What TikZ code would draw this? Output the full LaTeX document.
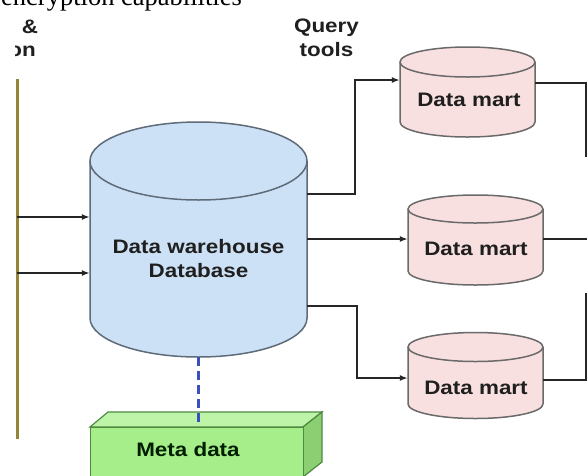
\documentclass[tikz,border=0pt]{standalone}
\usepackage{fontspec}
\newfontfamily\lblfont[FakeStretch=1.15]{Liberation Sans Bold}
\newfontfamily\serfont{Liberation Serif}
\usetikzlibrary{arrows.meta}

\definecolor{dwfill}{HTML}{CDE1F6}
\definecolor{dwline}{HTML}{5E6B78}
\definecolor{dmfill}{HTML}{F9E0E0}
\definecolor{dmline}{HTML}{6A6A6A}
\definecolor{olivel}{HTML}{948437}
\definecolor{dashblue}{HTML}{3A4FC0}
\definecolor{mfront}{HTML}{A6EE8A}
\definecolor{mtop}{HTML}{BDF4A8}
\definecolor{mside}{HTML}{8CCF72}
\definecolor{mline}{HTML}{4E8A40}

\tikzset{
 lbl/.style={font=\lblfont\fontsize{19.5}{24}\selectfont, text=black!88, inner sep=0pt, align=center},
 conn/.style={draw=black!85, line width=2.2pt},
 arr/.style={conn, -{Latex[length=8pt,width=6pt]}},
 body/.style={draw=none, inner sep=0pt, rectangle},
}

% cx, top cy, bottom cy, rx, ry, fill, line
\newcommand\drawcyl[7]{%
 \fill[#6] (#1-#4,-#2) -- (#1-#4,-#3) arc[start angle=180,end angle=360,x radius=#4,y radius=#5] -- (#1+#4,-#2) arc[start angle=0,end angle=180,x radius=#4,y radius=#5] -- cycle;
 \draw[#7, line width=1.5pt] (#1-#4,-#2) -- (#1-#4,-#3) arc[start angle=180,end angle=360,x radius=#4,y radius=#5] -- (#1+#4,-#2);
 \draw[#7, line width=1.5pt] (#1,-#2) ellipse[x radius=#4, y radius=#5];
}

\begin{document}
\begin{tikzpicture}[x=1pt,y=1pt]
\useasboundingbox (0,0) rectangle (587,-475);
\fill[white] (0,0) rectangle (587,-475);

% top text (cut off at the top, as in the reference)
\node[font=\serfont\fontsize{26.5}{30}\selectfont, anchor=base west, inner sep=0pt] (toptext) at (1,-5) {encryption capabilities};
\node[lbl] (amp) at (30,-27) {\&};
\begin{scope}
\clip (15,-38) rectangle (60,-62);
\node[lbl, anchor=base east] (ion) at (36,-56) {ion};
\end{scope}
\node[lbl] (query) at (326.5,-38) {Query\\tools};

% cylinders
\drawcyl{198.5}{161}{318}{108.5}{39}{dwfill}{dwline}
\drawcyl{467.5}{62}{122}{67.5}{15}{dmfill}{dmline}
\drawcyl{475.5}{209}{271}{67.5}{14}{dmfill}{dmline}
\drawcyl{475.5}{347}{404}{67.5}{14.5}{dmfill}{dmline}

\node[body, minimum width=217pt, minimum height=235pt] (dw) at (198.5,-239.5) {};
\node[body, minimum width=135pt, minimum height=90pt] (dm1) at (467.5,-92) {};
\node[body, minimum width=135pt, minimum height=90pt] (dm2) at (475.5,-240) {};
\node[body, minimum width=135pt, minimum height=85pt] (dm3) at (475.5,-375.5) {};

\node[lbl] (dwt) at (198.5,-259) {Data warehouse\\Database};
\node[lbl] (dm1t) at (469,-100) {Data mart};
\node[lbl] (dm2t) at (476,-248.5) {Data mart};
\node[lbl] (dm3t) at (476,-387.5) {Data mart};

% meta data box
\filldraw[fill=mtop, draw=mline, line width=1.2pt] (90,-427) -- (108,-412) -- (322,-412) -- (303,-427) -- cycle;
\filldraw[fill=mside, draw=mline, line width=1.2pt] (303,-427) -- (322,-412) -- (322,-462) -- (303,-477) -- cycle;
\node[draw=mline, fill=mfront, line width=1.2pt, minimum width=213pt, minimum height=60pt, anchor=north west, inner sep=0pt] (meta) at (90,-427) {};
\node[lbl, text=black!80!green!60!black] (metat) at (188,-449.5) {Meta data};

\draw[dashblue, line width=2.2pt, dash pattern=on 9pt off 5pt] (dw.south) -- (dw.south |- meta.north);

% left bus
\coordinate (ltop) at (17,-79);
\coordinate (lbot) at (17,-439);
\draw[olivel, line width=3pt] (ltop) -- (lbot);
\draw[arr] (ltop |- 0,-217) -- (dw.west |- 0,-217);
\draw[arr] (ltop |- 0,-273) -- (dw.west |- 0,-273);

% to data marts
\draw[arr] (dw.east |- 0,-194) -- (355,-194) -- (355,-80) -- (dm1.west |- 0,-80);
\draw[arr] (dw.east |- 0,-239) -- (dm2.west |- 0,-239);
\draw[arr] (dw.east |- 0,-306) -- (357,-306) -- (357,-378) -- (dm3.west |- 0,-378);

% outgoing on right
\coordinate (r1) at (586,-157);
\coordinate (r2) at (590,-239);
\coordinate (r3) at (586,-293);
\draw[conn] (dm1.east |- 0,-83) -- (586,-83) -- (r1);
\draw[conn] (dm2.east |- 0,-239) -- (r2);
\draw[conn] (dm3.east |- 0,-380) -- (586,-380) -- (r3);
\end{tikzpicture}
\end{document}
